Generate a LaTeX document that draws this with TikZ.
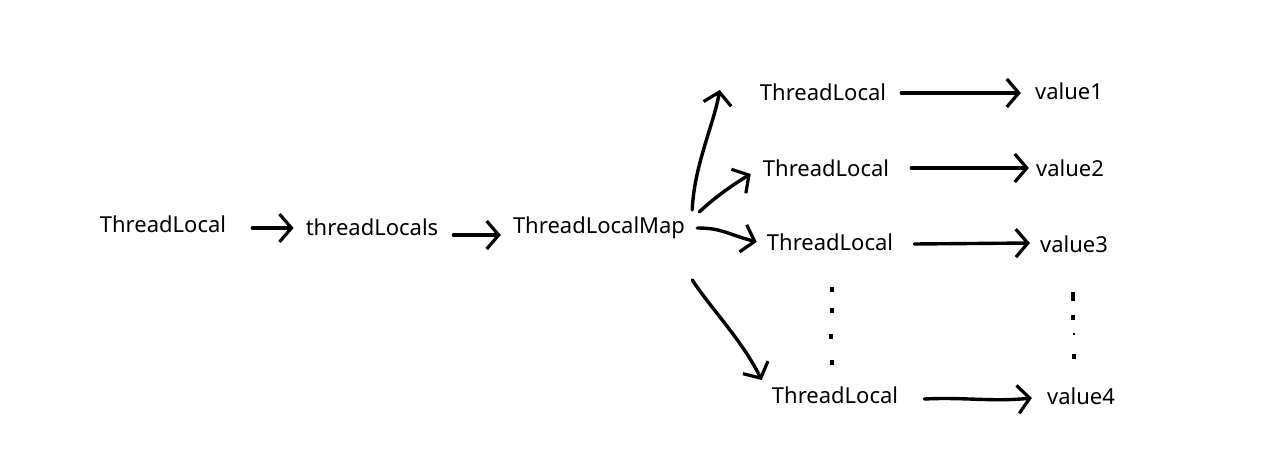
\documentclass[tikz,border=0pt]{standalone}
\usepackage{fontspec}
\setmainfont{Noto Sans}
\usetikzlibrary{arrows.meta,calc}
\begin{document}
\begin{tikzpicture}[x=1pt,y=-1pt,
  lbl/.style={inner sep=0pt,font=\fontsize{22}{26}\selectfont,text=black},
  arr/.style={line width=3.4pt,line cap=round,line join=round,
    -{Straight Barb[length=12pt,width=28pt,line width=3.2pt]}},
  dotmark/.style={fill=black,inner sep=0pt,minimum width=4pt,minimum height=5pt}]
\useasboundingbox (0,0) rectangle (1276,473);
\node[lbl] (t0) at (163,224) {ThreadLocal};
\node[lbl] (tls) at (372,227) {threadLocals};
\node[lbl] (map) at (599,228) {ThreadLocalMap};
\node[lbl] (k1) at (823,92) {ThreadLocal};
\node[lbl] (k2) at (826,168) {ThreadLocal};
\node[lbl] (k3) at (830,242) {ThreadLocal};
\node[lbl] (k4) at (835,395) {ThreadLocal};
\node[lbl] (v1) at (1069,91) {value1};
\node[lbl] (v2) at (1070,168) {value2};
\node[lbl] (v3) at (1074,244) {value3};
\node[lbl] (v4) at (1081,396) {value4};
% first row
\draw[arr] ($(t0.east)+(26,4)$) -- ($(tls.west)+(-12,1)$);
\draw[arr] ($(tls.east)+(15,8)$) -- ($(map.west)+(-12,7)$);
% fan out
\draw[arr] ($(map.east)+(7,-18)$) .. controls +(2,-45) and +(-6,35) .. ($(k1.west)+(-40,-2)$);
\draw[arr] ($(map.east)+(14,-16)$) .. controls +(15,-14) and +(-20,12) .. ($(k2.west)+(-12,6)$);
\draw[arr] ($(map.east)+(12,0)$) .. controls +(25,0) and +(-30,-8) .. ($(k3.west)+(-10,0)$);
\draw[arr] ($(map.east)+(7,52)$) .. controls +(20,30) and +(-20,-40) .. ($(k4.west)+(-10,-15)$);
% keys to values
\draw[arr] ($(k1.east)+(15,1)$) -- ($(v1.west)+(-14,2)$);
\draw[arr] ($(k2.east)+(22,0)$) -- ($(v2.west)+(-7,0)$);
\draw[arr] ($(k3.east)+(21,2)$) -- ($(v3.west)+(-10,-1)$);
\draw[arr] ($(k4.east)+(26,4)$) .. controls +(40,-2) and +(-40,4) .. ($(v4.west)+(-15,2)$);
% vertical ellipsis
\node[dotmark] (d1) at (832,289) {};
\node[dotmark] (d2) at (832,310) {};
\node[dotmark] (d3) at (831,336) {};
\node[dotmark] (d4) at (832,362) {};
\node[dotmark,minimum height=9pt] (e1) at (1073,296) {};
\node[dotmark] (e2) at (1073,317) {};
\node[dotmark,minimum width=2pt,minimum height=2pt] (e3) at (1074,334) {};
\node[dotmark] (e4) at (1074,356) {};
\end{tikzpicture}
\end{document}
